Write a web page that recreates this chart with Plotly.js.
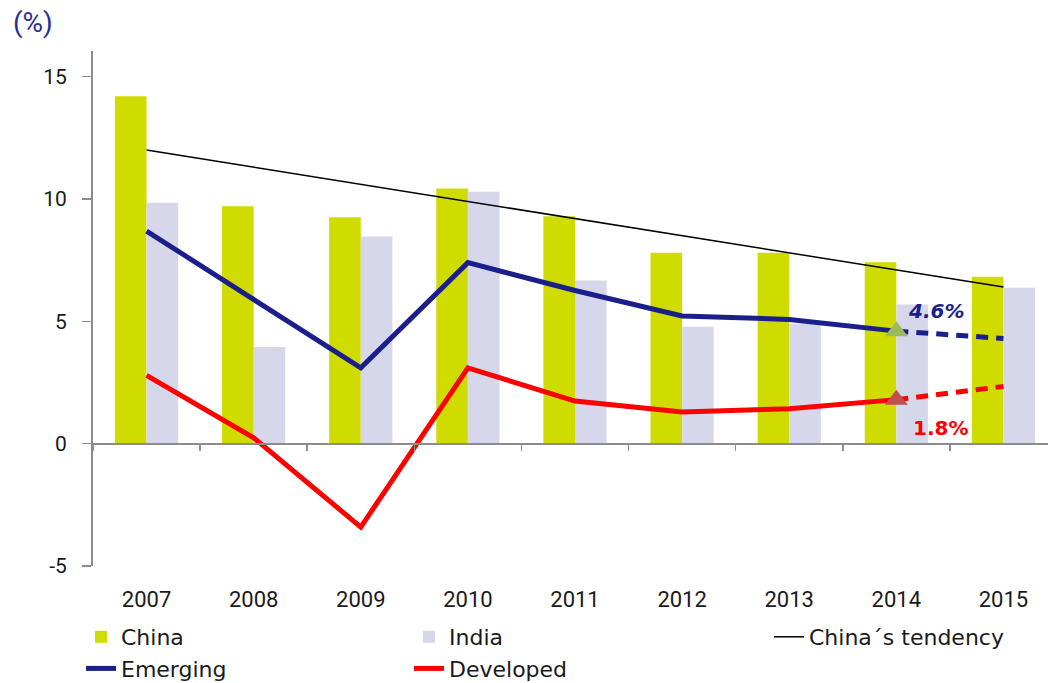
<!DOCTYPE html>
<html>
<head>
<meta charset="utf-8">
<script src="https://cdn.plot.ly/plotly-3.0.1.min.js"></script>
<style>html,body{margin:0;padding:0;background:#fff;}#chart{width:1048px;height:683px;}</style>
</head>
<body>
<div id="chart"></div>
<script>
// ---- data ----
var years = ['2007','2008','2009','2010','2011','2012','2013','2014','2015'];
var china = [14.2, 9.7, 9.25, 10.43, 9.3, 7.8, 7.8, 7.42, 6.82];
var india = [9.85, 3.95, 8.47, 10.3, 6.67, 4.78, 4.9, 5.69, 6.37];
var emerging = [8.69, 5.9, 3.1, 7.4, 6.26, 5.22, 5.08, 4.6, 4.3];
var developed = [2.79, 0.24, -3.41, 3.1, 1.74, 1.29, 1.43, 1.8, 2.34];
var tendencyYears = ['2007', '2015'];
var tendencyValues = [12.0, 6.4];
var yTickVals = [-5, 0, 5, 10, 15];
var yTickText = ['-5', '0', '5', '10', '15'];
var forecastStart = 7; // index of 2014, lines dashed from here
var emergingLabel = '4.6%';
var developedLabel = '1.8%';

var FONT = 'DejaVu Sans, sans-serif';
var TICKFONT = 'Roboto, sans-serif';
var NAVY = '#1a1f8c';
var RED = '#ff0000';
var AXIS = '#8c8c8c';

var traces = [
  {type:'bar', name:'China', x:years, y:china, marker:{color:'#d0dc00'}},
  {type:'bar', name:'India', x:years, y:india, marker:{color:'#d6d7ea'}},
  {type:'scatter', mode:'lines', name:'China\u00b4s tendency', x:tendencyYears, y:tendencyValues,
   line:{color:'#000000', width:1.5}, legend:'legend2'},
  {type:'scatter', mode:'lines', name:'Emerging', x:years.slice(0, forecastStart+1), y:emerging.slice(0, forecastStart+1),
   line:{color:NAVY, width:5}},
  {type:'scatter', mode:'lines', name:'Developed', x:years.slice(0, forecastStart+1), y:developed.slice(0, forecastStart+1),
   line:{color:RED, width:5}},
  {type:'scatter', mode:'lines', showlegend:false, x:years.slice(forecastStart), y:emerging.slice(forecastStart),
   line:{color:NAVY, width:5, dash:'12px,8px'}},
  {type:'scatter', mode:'lines', showlegend:false, x:years.slice(forecastStart), y:developed.slice(forecastStart),
   line:{color:RED, width:5, dash:'12px,8px'}},
  {type:'scatter', mode:'markers', showlegend:false, x:[years[forecastStart]], y:[emerging[forecastStart]],
   marker:{symbol:'triangle-up', size:20, color:'#9bbb59'}},
  {type:'scatter', mode:'markers', showlegend:false, x:[years[forecastStart]], y:[developed[forecastStart]],
   marker:{symbol:'triangle-up', size:20, color:'#c0504d'}},
  // carrier for the bottom label axis (draws nothing)
  {type:'scatter', mode:'none', showlegend:false, hoverinfo:'skip', xaxis:'x2', yaxis:'y',
   x:years.map(function(_, i){return i;}), y:years.map(function(){return null;})}
];

var xr = [-0.5, 8.416];
var legendFont = {family:FONT, size:22, color:'#1a1a1a'};
var layout = {
  width:1048, height:683,
  margin:{l:93, r:0, t:51, b:117},
  paper_bgcolor:'#ffffff', plot_bgcolor:'#ffffff',
  font:{family:FONT, size:20, color:'#1a1a1a'},
  barmode:'group', bargap:0.41, bargroupgap:0,
  showlegend:true,
  legend:{orientation:'h', xref:'container', yref:'container', x:81/1048, xanchor:'left',
          y:1-616/683, yanchor:'top', entrywidth:283, entrywidthmode:'pixels',
          font:legendFont, bgcolor:'rgba(0,0,0,0)', tracegroupgap:0},
  legend2:{orientation:'h', xref:'container', yref:'container', x:769/1048, xanchor:'left',
          y:1-616/683, yanchor:'top', font:legendFont, bgcolor:'rgba(0,0,0,0)'},
  xaxis:{type:'category', range:xr, anchor:'free', position:(0-(-5))/(16.05-(-5)),
         showline:true, linecolor:AXIS, linewidth:2, ticks:'outside', tickson:'boundaries',
         ticklen:6, tickwidth:1.5, tickcolor:AXIS, showticklabels:false, showgrid:false, zeroline:false,
         fixedrange:true},
  xaxis2:{type:'linear', range:xr, overlaying:'x', anchor:'y', side:'bottom',
          tickmode:'array', tickvals:years.map(function(_, i){return i;}), ticktext:years,
          showline:false, ticks:'', showgrid:false, zeroline:false, ticklabelstandoff:18,
          tickfont:{family:TICKFONT, size:22, color:'#1a1a1a'}},
  yaxis:{range:[-5, 16.05], tickmode:'array', tickvals:yTickVals, ticktext:yTickText,
         showline:true, linecolor:AXIS, linewidth:2,
         ticks:'outside', ticklen:9, tickwidth:1.5, tickcolor:AXIS, showgrid:false, zeroline:false,
         ticklabelstandoff:11, tickfont:{family:TICKFONT, size:21, color:'#1a1a1a'}},
  annotations:[
    {xref:'paper', yref:'paper', x:-(93-11)/955, y:(566-4)/515, xanchor:'left', yanchor:'top',
     text:'(%)', showarrow:false, font:{family:TICKFONT, size:28, color:'#2b2f92'}},
    {xref:'x2', yref:'y', x:forecastStart, y:5.42, xshift:40, text:emergingLabel, showarrow:false,
     font:{family:FONT, size:20, color:NAVY, weight:'bold', style:'italic'}},
    {xref:'x2', yref:'y', x:forecastStart, y:0.65, xshift:44, text:developedLabel, showarrow:false,
     font:{family:FONT, size:20, color:RED, weight:'bold'}}
  ]
};

Plotly.newPlot('chart', traces, layout, {displayModeBar:false, staticPlot:true});
</script>
</body>
</html>
